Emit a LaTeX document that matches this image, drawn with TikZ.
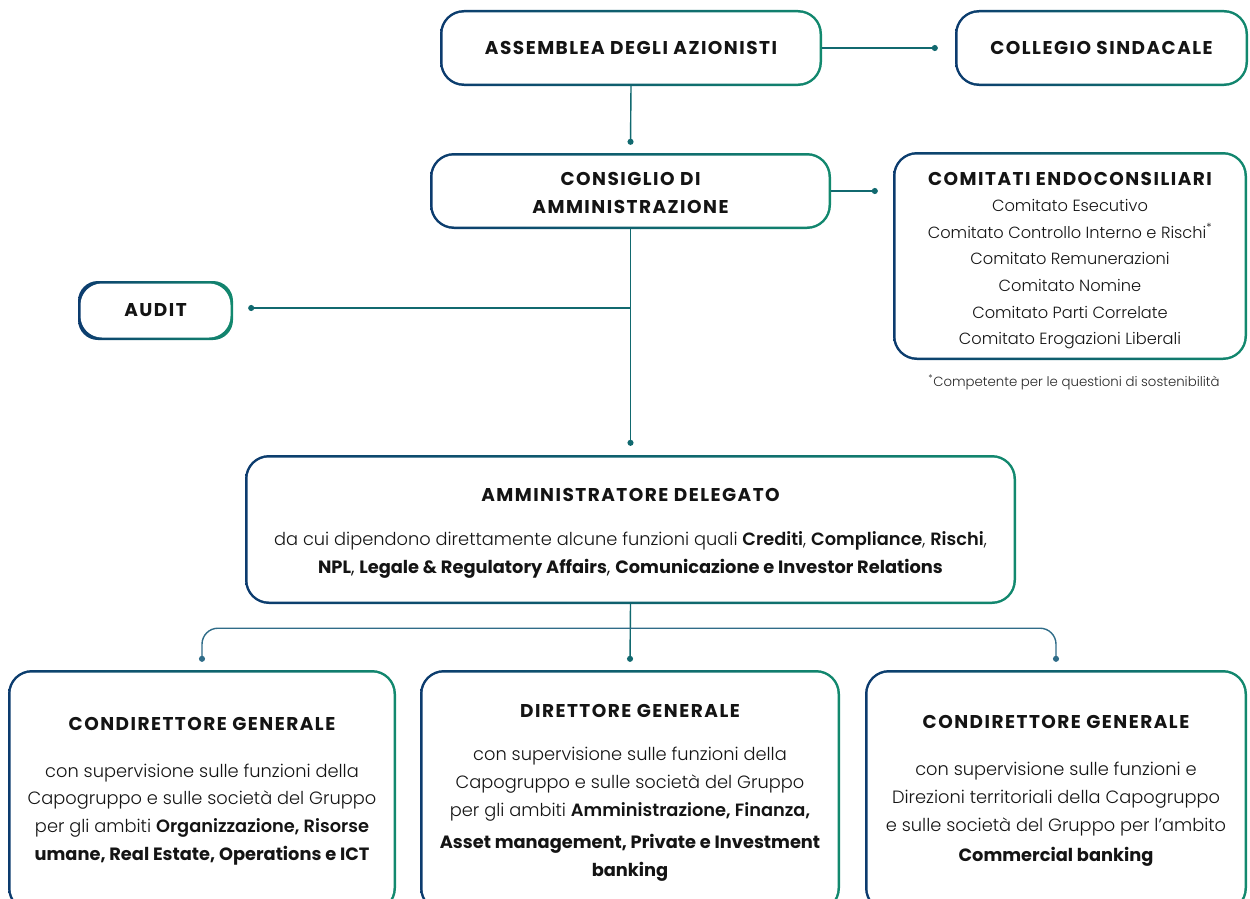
\documentclass[tikz,border=0pt]{standalone}
\usepackage{fontspec}
\setmainfont{Poppins}
\newfontfamily\hdf[LetterSpace=8]{Poppins}
\newfontfamily\ltf{Poppins Light}
\usetikzlibrary{arrows.meta,calc}
\definecolor{navy}{HTML}{0C3B6E}
\definecolor{grn}{HTML}{12896E}
\definecolor{tealc}{HTML}{11696F}
\definecolor{branchc}{HTML}{2F6C88}
\newcommand{\hd}{\hdf\bfseries\fontsize{18.5}{27}\selectfont}
\newcommand{\lt}{\ltf}
\tikzset{
  box/.style={shape=rectangle, rounded corners=24pt, left color=navy, right color=grn,
    align=center, inner sep=0pt, text=black!92,
    font=\fontsize{17.8}{28}\selectfont,
    path picture={\fill[white, rounded corners=21.5pt]
      ($(path picture bounding box.south west)+(2.5pt,2.5pt)$) rectangle
      ($(path picture bounding box.north east)-(2.5pt,2.5pt)$);}},
  conn/.style={draw=tealc, line width=1.4pt, -{Circle[length=6pt]}},
  branch/.style={draw=branchc, line width=1.4pt, -{Circle[length=6pt]}, rounded corners=16pt},
}
\begin{document}
\begin{tikzpicture}[x=1pt,y=-1pt]
\useasboundingbox (0,0) rectangle (1250,899);
\clip (0,0) rectangle (1250,899);
\node[box, minimum width=382pt, minimum height=76pt] (ass) at (631,48) {\hd ASSEMBLEA DEGLI AZIONISTI};
\node[box, minimum width=293pt, minimum height=76pt] (col) at (1101.5,48) {\hd COLLEGIO SINDACALE};
\node[box, minimum width=401pt, minimum height=76pt] (cons) at (630.5,191) {\hd\rule{0pt}{17pt}CONSIGLIO DI\\\hd AMMINISTRAZIONE};
\node[box, minimum width=354pt, minimum height=208pt, font=\fontsize{16.2}{26.6}\selectfont] (com) at (1070,256)
  {\hd\rule{0pt}{22pt}COMITATI ENDOCONSILIARI\\
   \lt Comitato Esecutivo\\
   \lt Comitato Controllo Interno e Rischi\textsuperscript{*}\\
   \lt Comitato Remunerazioni\\
   \lt Comitato Nomine\\
   \lt Comitato Parti Correlate\\
   \lt Comitato Erogazioni Liberali};
\node[font=\ltf\fontsize{13.3}{15}\selectfont, text=black!85] (fn) at (1074,382) {\textsuperscript{*}Competente per le questioni di sostenibilità};
\node[box, rounded corners=20pt, minimum width=155pt, minimum height=59pt] (audit) at (155.5,310.5) {\hd AUDIT};
\node[box, minimum width=771pt, minimum height=149pt] (ad) at (630.5,529.5)
  {\hd\rule{0pt}{21pt}AMMINISTRATORE DELEGATO\\[16pt]
   \lt da cui dipendono direttamente alcune funzioni quali \textbf{Crediti}, \textbf{Compliance}, \textbf{Rischi},\\
   \textbf{NPL}, \textbf{Legale \& Regulatory Affairs}, \textbf{Comunicazione e Investor Relations}};
\node[box, minimum width=388pt, minimum height=242pt, font=\fontsize{17.8}{27.7}\selectfont] (cgl) at (202,791)
  {\hd CONDIRETTORE GENERALE\\[19pt]
   \lt con supervisione sulle funzioni della\\
   \lt Capogruppo e sulle società del Gruppo\\
   \lt per gli ambiti \textbf{Organizzazione, Risorse}\\
   \textbf{umane, Real Estate, Operations e ICT}};
\node[box, minimum width=420pt, minimum height=242pt] (dg) at (630,791)
  {\hd\rule{0pt}{17pt}DIRETTORE GENERALE\\[15pt]
   \lt con supervisione sulle funzioni della\\
   \lt Capogruppo e sulle società del Gruppo\\
   \lt per gli ambiti \textbf{Amministrazione, Finanza,}\\[4pt]
   \textbf{Asset management, Private e Investment}\\
   \textbf{banking}};
\node[box, minimum width=382pt, minimum height=242pt] (cgr) at (1056,791)
  {\hd CONDIRETTORE GENERALE\\[19pt]
   \lt con supervisione sulle funzioni e\\
   \lt Direzioni territoriali della Capogruppo\\
   \lt e sulle società del Gruppo per l’ambito\\[2pt]
   \textbf{Commercial banking}};
% connectors
\draw[conn] (ass.east) -- ([xshift=-17pt]col.west);
\draw[conn] (ass.south) -- ([yshift=8pt]cons.north);
\draw[conn] (cons.east) -- ($(cons.east -| com.west)+(-15pt,0)$);
\draw[conn] (cons.south) -- ([yshift=9pt]ad.north);
\coordinate (j) at ($(cons.south |- audit.east)+(0,2.5pt)$);
\draw[conn] (j) -- ($(audit.east)+(15pt,0)+(0,2.5pt)$);
\draw[conn] (ad.south) -- ([yshift=8pt]dg.north);
\coordinate (fork) at ($(ad.south)+(0,24)$);
\draw[branch] (fork) -| ([yshift=8pt]cgl.north);
\draw[branch] (fork) -| ([yshift=8pt]cgr.north);
\end{tikzpicture}
\end{document}
